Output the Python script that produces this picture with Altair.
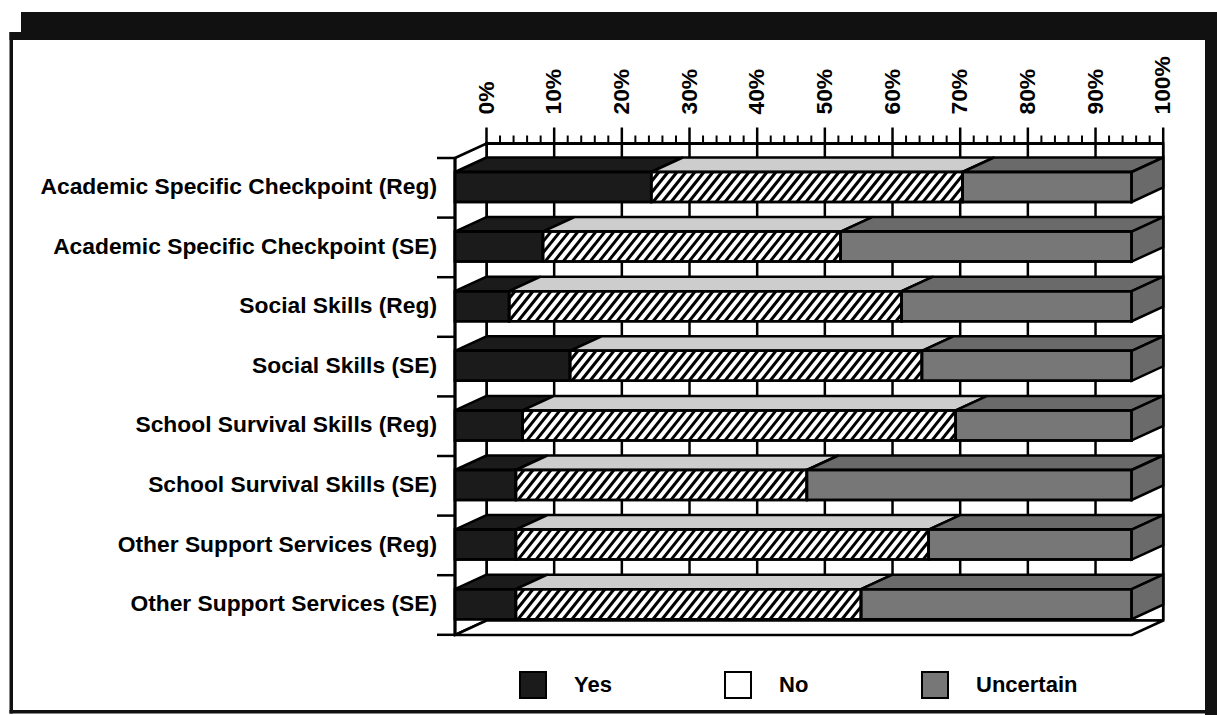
import numpy as np
import pandas as pd
import altair as alt

# ---------------- data ----------------
CATEGORIES = [
    "Academic Specific Checkpoint (Reg)",
    "Academic Specific Checkpoint (SE)",
    "Social Skills (Reg)",
    "Social Skills (SE)",
    "School Survival Skills (Reg)",
    "School Survival Skills (SE)",
    "Other Support Services (Reg)",
    "Other Support Services (SE)",
]
SERIES = ["Yes", "No", "Uncertain"]
YES = [29, 13, 8, 17, 10, 9, 9, 9]
NO = [46, 44, 58, 52, 64, 43, 61, 51]
UNCERTAIN = [25, 43, 34, 31, 26, 48, 30, 40]
TICKS = list(range(0, 101, 10))
TICK_LABELS = [f"{t}%" for t in TICKS]
MINOR_TICKS = [t for t in range(0, 101, 2) if t % 10]

# ---------------- layout / style ----------------
W, HGT = 1217, 715
X0_PX, PX_PER_PCT = 455.0, 6.767        # front plane: 0% at x=455
ROW0_PX, PX_PER_ROW = 187.0, 59.6       # first row centre, row pitch
DEPTH_X_PX, DEPTH_Y_PX = 31.5, -14.5    # oblique depth vector
HALF_BAR_PX = 15.0
BOX_TOP_PX, BOX_BOT_PX = 158.0, 635.0
FONT = "Liberation Sans"
FS = 22.8
LEG_FS = 22
LW = 2.5

FRONT_COLORS = ["#1b1b1b", "#ffffff", "#777777"]
TOP_COLORS = ["#1b1b1b", "#cdcdcd", "#6a6a6a"]
SIDE_COLOR = "#6a6a6a"

DX = DEPTH_X_PX / PX_PER_PCT
DY = DEPTH_Y_PX / PX_PER_ROW
HB = HALF_BAR_PX / PX_PER_ROW
BT = (BOX_TOP_PX - ROW0_PX) / PX_PER_ROW
BB = (BOX_BOT_PX - ROW0_PX) / PX_PER_ROW
AXIS_R = BT + DY
FLOOR_BACK = BB + DY

XS = alt.Scale(domain=[-X0_PX / PX_PER_PCT, (W - X0_PX) / PX_PER_PCT], nice=False, zero=False)
YS = alt.Scale(domain=[-ROW0_PX / PX_PER_ROW, (HGT - ROW0_PX) / PX_PER_ROW],
               nice=False, zero=False, reverse=True)

def X(f):
    return alt.X(f, scale=XS, axis=None, title=None)

def Y(f):
    return alt.Y(f, scale=YS, axis=None, title=None)

# ---------------- derived tables ----------------
segs = []
for i, cat in enumerate(CATEGORIES):
    start = 0
    for s, vals in zip(SERIES, [YES, NO, UNCERTAIN]):
        v = vals[i]
        segs.append(dict(row=i, category=cat, series=s, a=start, b=start + v, value=v,
                         y0=i - HB, y1=i + HB))
        start += v
seg_df = pd.DataFrame(segs)

top_pts = []
for r in segs:
    key = f"{r['row']}-{r['series']}"
    col = TOP_COLORS[SERIES.index(r["series"])]
    top_pts.append(dict(key=key, c=col, y=r["row"] - HB, x=r["a"], x2=r["b"]))
    top_pts.append(dict(key=key, c=col, y=r["row"] - HB + DY, x=r["a"] + DX, x2=r["b"] + DX))
top_df = pd.DataFrame(top_pts)

side_pts = []
for r in segs:
    if r["series"] == SERIES[-1]:
        key = str(r["row"])
        side_pts.append(dict(key=key, x=r["b"], y=r["row"] - HB, y2=r["row"] + HB))
        side_pts.append(dict(key=key, x=r["b"] + DX, y=r["row"] - HB + DY, y2=r["row"] + HB + DY))
side_df = pd.DataFrame(side_pts)

PERIOD = 9.0 / PX_PER_PCT
RUN = 24.0 / PX_PER_PCT
hatch = []
for r in segs:
    if r["series"] != "No":
        continue
    a, b = r["a"], r["b"]
    yb, yt = r["row"] + HB, r["row"] - HB
    for k in range(int(np.floor((a - RUN) / PERIOD)), int(np.ceil(b / PERIOD)) + 1):
        x0 = k * PERIOD
        t0 = max(0.0, (a - x0) / RUN)
        t1 = min(1.0, (b - x0) / RUN)
        if t1 > t0:
            hatch.append(dict(x=x0 + RUN * t0, y=yb - (yb - yt) * t0,
                              x2=x0 + RUN * t1, y2=yb - (yb - yt) * t1))
hatch_df = pd.DataFrame(hatch)

wall_df = pd.DataFrame([dict(x=DX, x2=100 + DX, y=AXIS_R, y2=FLOOR_BACK)])
grid_df = pd.DataFrame(dict(x=[t + DX for t in TICKS], y=AXIS_R, y2=FLOOR_BACK))
major_df = pd.DataFrame(dict(x=[t + DX for t in TICKS], y=AXIS_R,
                             y2=AXIS_R - 16.0 / PX_PER_ROW))
minor_df = pd.DataFrame(dict(x=[t + DX for t in MINOR_TICKS], y=AXIS_R,
                             y2=AXIS_R - 8.0 / PX_PER_ROW))
ticklab_df = pd.DataFrame(dict(x=[t + DX for t in TICKS], label=TICK_LABELS,
                               y=AXIS_R - 29.0 / PX_PER_ROW))
axisline_df = pd.DataFrame([dict(x=DX, x2=100 + DX, y=AXIS_R)])
leftwall_df = pd.DataFrame([dict(key="w", x=0, y=BT, y2=BB),
                            dict(key="w", x=DX, y=BT + DY, y2=BB + DY)])
floor_df = pd.DataFrame([dict(key="f", y=BB, x=0, x2=100),
                         dict(key="f", y=BB + DY, x=DX, x2=100 + DX)])
lticks_df = pd.DataFrame(dict(x=-18.0 / PX_PER_PCT, x2=0.0,
                              y=[BT + k for k in range(len(CATEGORIES) + 1)]))
laxis_df = pd.DataFrame([dict(x=0, y=BT, y2=BB)])
catlab_df = pd.DataFrame(dict(category=CATEGORIES, y=list(range(len(CATEGORIES))),
                              x=-18.0 / PX_PER_PCT))

# ---------------- frame (page border) ----------------
one = pd.DataFrame({"k": [0]})
def frame_rect(x, x2, y, y2):
    return alt.Chart(one).mark_rect(color="#111111").encode(
        x=alt.value(x), x2=alt.value(x2), y=alt.value(y), y2=alt.value(y2))

frame = [
    frame_rect(21, 1217, 12, 40),
    frame_rect(9.5, 21, 32, 40),
    frame_rect(9.5, 13, 32, 713.5),
    frame_rect(9.5, 1205, 710, 713.5),
    frame_rect(1205, 1217, 40, 715),
]

# ---------------- chart layers ----------------
wall = alt.Chart(wall_df).mark_rect(fill="white", stroke="black", strokeWidth=LW).encode(
    x=X("x:Q"), x2="x2:Q", y=Y("y:Q"), y2="y2:Q")
grid = alt.Chart(grid_df).mark_rule(color="black", strokeWidth=LW).encode(
    x=X("x:Q"), y=Y("y:Q"), y2="y2:Q")
major = alt.Chart(major_df).mark_rule(color="black", strokeWidth=LW).encode(
    x=X("x:Q"), y=Y("y:Q"), y2="y2:Q")
minor = alt.Chart(minor_df).mark_rule(color="black", strokeWidth=2).encode(
    x=X("x:Q"), y=Y("y:Q"), y2="y2:Q")
ticklabels = alt.Chart(ticklab_df).mark_text(
    angle=270, align="left", baseline="middle", font=FONT, fontSize=FS,
    fontWeight="bold", color="black").encode(
    x=X("x:Q"), y=Y("y:Q"), text="label:N")
axisline = alt.Chart(axisline_df).mark_rule(color="black", strokeWidth=LW + 0.5).encode(
    x=X("x:Q"), x2="x2:Q", y=Y("y:Q"))
leftwall = alt.Chart(leftwall_df).mark_area(
    orient="vertical", fill="white", stroke="black", strokeWidth=LW).encode(
    x=X("x:Q"), y=Y("y:Q"), y2="y2:Q", detail="key:N")
floor = alt.Chart(floor_df).mark_area(
    orient="horizontal", fill="white", stroke="black", strokeWidth=LW).encode(
    y=Y("y:Q"), x=X("x:Q"), x2="x2:Q", detail="key:N")
lticks = alt.Chart(lticks_df).mark_rule(color="black", strokeWidth=LW).encode(
    x=X("x:Q"), x2="x2:Q", y=Y("y:Q"))
laxis = alt.Chart(laxis_df).mark_rule(color="black", strokeWidth=LW + 0.5).encode(
    x=X("x:Q"), y=Y("y:Q"), y2="y2:Q")
catlabels = alt.Chart(catlab_df).mark_text(
    align="right", baseline="middle", font=FONT, fontSize=FS, fontWeight="bold",
    color="black").encode(x=X("x:Q"), y=Y("y:Q"), text="category:N")

tops = alt.Chart(top_df).mark_area(
    orient="horizontal", stroke="black", strokeWidth=LW, opacity=1).encode(
    y=Y("y:Q"), x=X("x:Q"), x2="x2:Q", detail="key:N",
    fill=alt.Fill("c:N", scale=None, legend=None),
)
fronts = alt.Chart(seg_df).mark_rect(stroke="black", strokeWidth=LW, opacity=1).encode(
    x=X("a:Q"), x2="b:Q", y=Y("y0:Q"), y2="y1:Q",
    fill=alt.Fill("series:N", scale=alt.Scale(domain=SERIES, range=FRONT_COLORS),
                  legend=alt.Legend(
                      title=None, orient="none", direction="horizontal",
                      legendX=519, legendY=671, padding=0,
                      symbolType="square", symbolSize=676,
                      symbolStrokeColor="black", symbolStrokeWidth=2,
                      symbolOpacity=1, labelOffset=27, columnPadding=109,
                      labelFontSize=LEG_FS, labelFont=FONT, labelFontWeight="bold",
                      labelColor="black")),
)
hatch_layer = alt.Chart(hatch_df).mark_rule(color="black", strokeWidth=3, strokeCap="butt").encode(
    x=X("x:Q"), x2="x2:Q", y=Y("y:Q"), y2="y2:Q")
outlines = alt.Chart(seg_df).mark_rect(fillOpacity=0, stroke="black", strokeWidth=LW).encode(
    x=X("a:Q"), x2="b:Q", y=Y("y0:Q"), y2="y1:Q")
sides = alt.Chart(side_df).mark_area(
    orient="vertical", fill=SIDE_COLOR, stroke="black", strokeWidth=LW).encode(
    x=X("x:Q"), y=Y("y:Q"), y2="y2:Q", detail="key:N")

chart = alt.layer(
    *frame, wall, grid, major, minor, ticklabels, axisline, leftwall, floor,
    lticks, laxis, catlabels, tops, fronts, hatch_layer, outlines, sides,
).resolve_scale(fill="independent").properties(
    width=W, height=HGT, padding=0,
    autosize=alt.AutoSizeParams(type="none"),
    background="white",
).configure_view(strokeWidth=0)

chart.save("out.html", embed_options={"renderer": "svg", "actions": False})
